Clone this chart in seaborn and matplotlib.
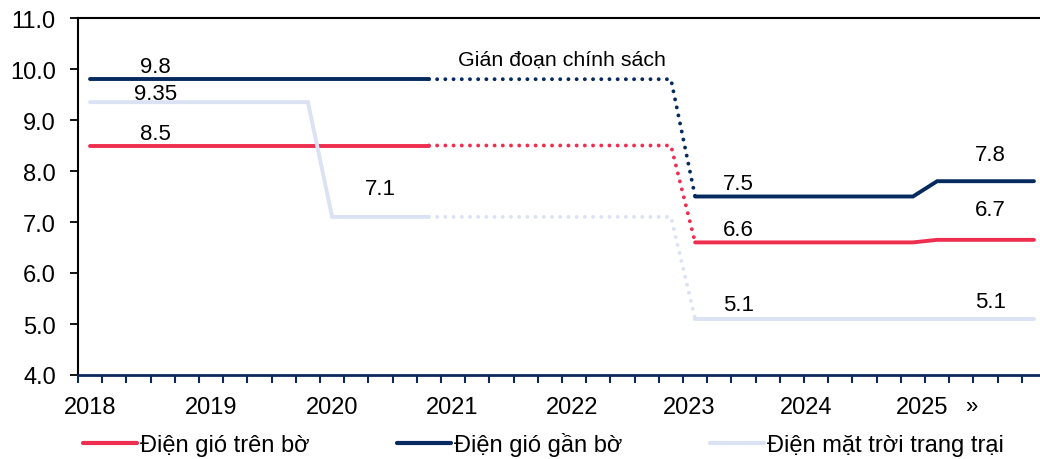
import matplotlib
matplotlib.use("Agg")
import matplotlib.pyplot as plt
import seaborn as sns
import pandas as pd
from matplotlib.lines import Line2D

# ---------------- data ----------------
periods = list(range(40))  # category index along the x axis
onshore = [8.5] * 25 + [6.6] * 10 + [6.65] * 5
offshore = [9.8] * 25 + [7.5] * 10 + [7.8] * 5
solar = [9.35] * 10 + [7.1] * 15 + [5.1] * 15
series_names = ["Điện gió trên bờ", "Điện gió gần bờ", "Điện mặt trời trang trại"]
year_labels = ["2018", "2019", "2020", "2021", "2022", "2023", "2024", "2025"]
year_pos = [0, 5.0, 10.0, 14.95, 19.9, 24.75, 29.6, 34.4]
gap_start, gap_end = 14, 25  # policy gap (dotted)
annotation = "Gián đoạn chính sách"
value_labels = [  # (x, y, text)
    (2.7, 10.04, "9.8"), (2.7, 9.51, "9.35"), (2.7, 8.73, "8.5"),
    (12.0, 7.65, "7.1"), (26.8, 7.75, "7.5"), (26.8, 6.86, "6.6"),
    (26.8, 5.39, "5.1"), (37.2, 8.33, "7.8"), (37.2, 7.25, "6.7"),
    (37.2, 5.45, "5.1"),
]

colors = ["#EE2E4E", "#062A5E", "#DAE2F3"]

sns.set_theme(style="white")
plt.rcParams["font.family"] = ["Liberation Sans", "DejaVu Sans"]
plt.rcParams["text.color"] = "black"
plt.rcParams["xtick.color"] = "black"
plt.rcParams["ytick.color"] = "black"
plt.rcParams["xtick.labelcolor"] = "black"
plt.rcParams["ytick.labelcolor"] = "black"

fig = plt.figure(figsize=(10.4, 4.6), dpi=100)
ax = fig.add_axes([78 / 1040, (460 - 376) / 460, 1 - 78 / 1040, (376 - 19) / 460])

df = pd.DataFrame({"x": periods, "on": onshore, "off": offshore, "sol": solar})
lw = 2.8
for col, c in zip(["on", "off", "sol"], colors):
    segs = [(df[df.x <= gap_start], "solid"),
            (df[(df.x >= gap_start) & (df.x <= gap_end)], "dot"),
            (df[df.x >= gap_end], "solid")]
    for sub, kind in segs:
        n0 = len(ax.lines)
        sns.lineplot(data=sub, x="x", y=col, color=c, ax=ax, linewidth=lw,
                     legend=False, sort=True)
        for ln in ax.lines[n0:]:
            if kind == "dot":
                ln.set_linestyle((0, (0.01, 2.1)))
                ln.set_dash_capstyle("round")
            else:
                ln.set_solid_capstyle("round")
                ln.set_solid_joinstyle("miter")

ax.set_xlim(-0.5, 39.25)
ax.set_ylim(4.0, 11.0)
ax.set_yticks([4, 5, 6, 7, 8, 9, 10, 11])
ax.set_yticklabels([f"{v:.1f}" for v in [4, 5, 6, 7, 8, 9, 10, 11]])
ax.set_xticks(year_pos)
ax.set_xticklabels(year_labels)
ax.set_xticks([k - 0.5 for k in range(40)], minor=True)
ax.tick_params(axis="x", which="major", length=0, pad=15, labelsize=17,
               labelcolor="black")
ax.tick_params(axis="x", which="minor", length=6, width=1.5, color="#0B2A5B", direction="out")
ax.tick_params(axis="y", length=6, width=1.3, color="black", direction="out", pad=10,
               labelsize=17, labelcolor="black")
ax.set_xlabel("")
ax.set_ylabel("")
for s in ["left", "top"]:
    ax.spines[s].set_color("black")
    ax.spines[s].set_linewidth(1.5)
ax.spines["bottom"].set_color("#0B2A5B")
ax.spines["bottom"].set_linewidth(2)
ax.spines["right"].set_visible(False)
ax.xaxis.set_tick_params(bottom=True, which="both")
ax.yaxis.set_tick_params(left=True)

ax.annotate("»", xy=(36.4, 4.0), xytext=(0, -15), textcoords="offset points",
            ha="center", va="top", fontsize=16, color="black")

for x, y, t in value_labels:
    ax.text(x, y, t, fontsize=16, ha="center", va="center", color="black")
ax.text(19.5, 10.2, annotation, fontsize=15.4, ha="center", va="center", color="black")

handles = [Line2D([0], [0], color=c, lw=3) for c in colors]
fig.legend(handles, series_names, loc="center left",
           bbox_to_anchor=(83 / 1040, 15 / 460), ncol=3, frameon=False,
           fontsize=17, handlelength=2.3, handletextpad=0.12,
           columnspacing=3.7, borderpad=0, borderaxespad=0, labelcolor="black")

fig.savefig("out.png", dpi=100)
